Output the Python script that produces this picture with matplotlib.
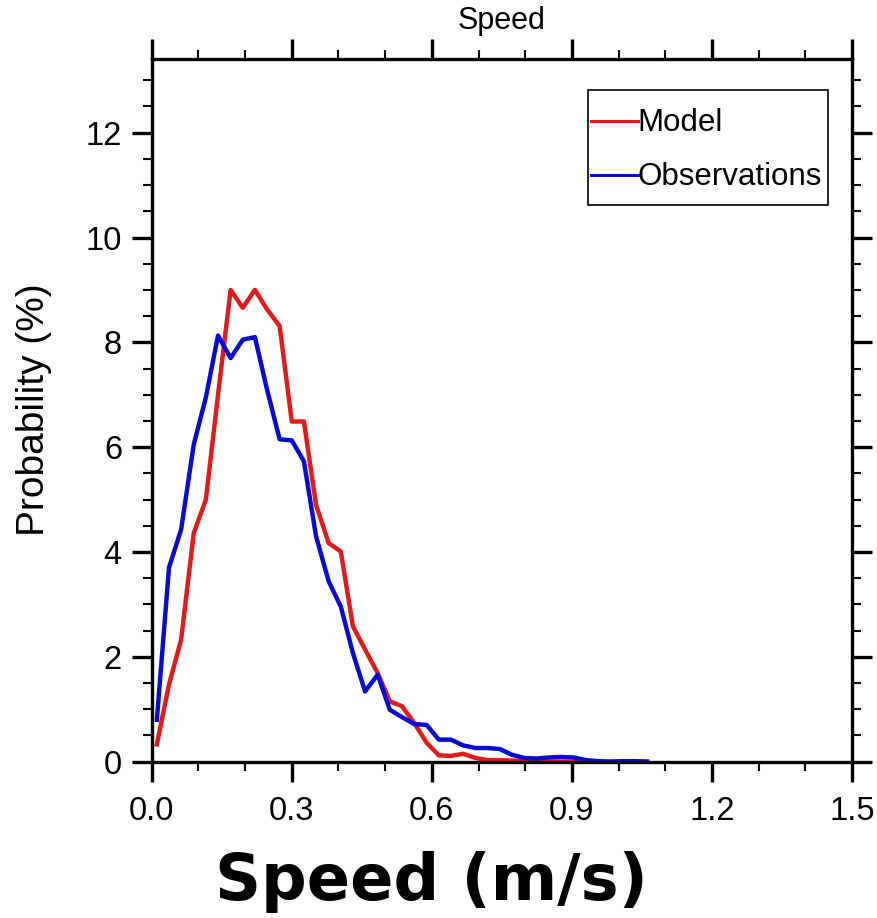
import matplotlib.pyplot as plt
from matplotlib.ticker import MultipleLocator
from matplotlib.patches import Rectangle
from matplotlib.lines import Line2D

# bin centres (m/s) and probability (%)
speed = [0.011, 0.037, 0.063, 0.090, 0.116, 0.142, 0.169, 0.195, 0.221, 0.247,
         0.274, 0.300, 0.326, 0.352, 0.379, 0.405, 0.431, 0.457, 0.484, 0.510,
         0.536, 0.562, 0.589, 0.615, 0.641, 0.667, 0.694, 0.720, 0.746, 0.772,
         0.799, 0.825, 0.851, 0.877, 0.904, 0.930, 0.956, 0.982, 1.009, 1.035,
         1.061]
model = [0.33, 1.47, 2.33, 4.36, 5.00, 7.00, 9.00, 8.66, 9.00, 8.63,
         8.31, 6.49, 6.49, 4.90, 4.17, 4.01, 2.58, 2.14, 1.69, 1.15,
         1.06, 0.74, 0.36, 0.12, 0.11, 0.15, 0.07, 0.03, 0.03, 0.02,
         0.01, 0.0, 0.0, 0.0, 0.0, 0.0, 0.0, 0.0, 0.0, 0.0,
         0.0]
obs = [0.80, 3.70, 4.43, 6.05, 6.95, 8.13, 7.70, 8.05, 8.10, 7.10,
       6.15, 6.13, 5.73, 4.30, 3.44, 2.96, 2.07, 1.34, 1.66, 0.99,
       0.85, 0.72, 0.70, 0.42, 0.42, 0.31, 0.26, 0.26, 0.24, 0.13,
       0.07, 0.06, 0.08, 0.09, 0.08, 0.03, 0.01, 0.00, 0.01, 0.01,
       0.00]
labels = ['Model', 'Observations']
colors = ['#e01b1b', '#0b0bd0']

plt.rcParams['font.family'] = ['Liberation Sans', 'DejaVu Sans']

fig = plt.figure(figsize=(8.77, 9.18), dpi=100)
ax = fig.add_axes([0.173, 0.1703, 0.7985, 0.7651])

ax.plot(speed, model, color=colors[0], lw=3.2, zorder=2)
ax.plot(speed, obs, color=colors[1], lw=3.2, zorder=2.1)

ax.set_xlim(0, 1.5)
ax.set_ylim(0, 13.4)
ax.xaxis.set_major_locator(MultipleLocator(0.3))
ax.xaxis.set_minor_locator(MultipleLocator(0.1))
ax.yaxis.set_major_locator(MultipleLocator(2))
ax.yaxis.set_minor_locator(MultipleLocator(0.5))
ax.xaxis.set_major_formatter(plt.FuncFormatter(lambda v, p: f'{v:.1f}'))

for s in ax.spines.values():
    s.set_linewidth(2.4)
ax.tick_params(which='both', direction='out', top=True, right=True)
ax.tick_params(which='major', length=14.4, width=2.4, labelsize=23.5)
ax.tick_params(which='minor', length=6.5, width=1.5)
ax.tick_params(axis='x', which='major', pad=10)
ax.tick_params(axis='y', which='major', pad=7)

ax.set_title('Speed', fontsize=22, pad=22)
fig.text(34 / 877, 1 - 410 / 918, 'Probability (%)', rotation=90,
         ha='center', va='center', fontsize=28)
fig.text(0.492, 1 - 900 / 918, 'Speed (m/s)', ha='center', va='baseline',
         fontsize=46, fontweight='bold', family='DejaVu Sans')

# legend drawn by hand to match the NCL box
ax.add_patch(Rectangle((0.6230, 0.7926), 0.3429, 0.1637, transform=ax.transAxes,
                       fill=False, ec='black', lw=1.2, zorder=5))
rows = [(0.9126, 0.8983), (0.8353, 0.8210)]
for lab, col, (ly, ty) in zip(labels, colors, rows):
    ax.add_line(Line2D([0.6279, 0.6939], [ly, ly], transform=ax.transAxes,
                       color=col, lw=2.2, zorder=5))
    ax.text(0.6939, ty, lab, transform=ax.transAxes, fontsize=22.5,
            va='baseline', ha='left', zorder=5)

plt.savefig('out.png', dpi=100)
